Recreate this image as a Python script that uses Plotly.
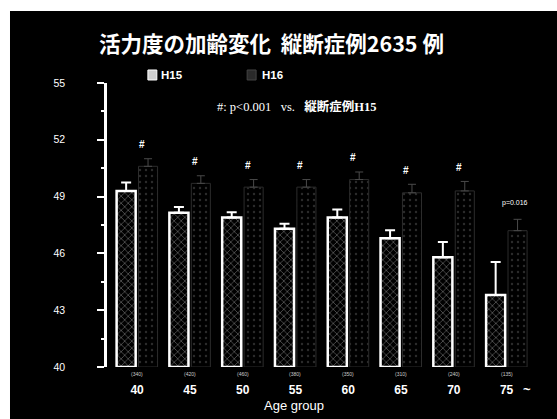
import plotly.graph_objects as go

categories = ["40", "45", "50", "55", "60", "65", "70", "75"]
h15_values = [49.3, 48.15, 47.9, 47.3, 47.9, 46.8, 45.8, 43.8]
h15_err = [0.45, 0.3, 0.28, 0.27, 0.42, 0.42, 0.8, 1.75]
h16_values = [50.6, 49.7, 49.5, 49.5, 49.9, 49.2, 49.3, 47.2]
h16_err = [0.4, 0.4, 0.4, 0.4, 0.4, 0.45, 0.5, 0.6]
sig_marks = ["#", "#", "#", "#", "#", "#", "#", "p=0.016"]
sample_n = ["(340)", "(420)", "(460)", "(380)", "(350)", "(310)", "(240)", "(135)"]

title_text = "<b>活力度の加齢変化  縦断症例2635 例</b>"
note_text = "#: p<0.001&nbsp;&nbsp;&nbsp;vs.&nbsp;&nbsp;&nbsp;<b>縦断症例H15</b>"

fig = go.Figure()

fig.add_trace(go.Bar(
    x=categories, y=[v - 40 for v in h15_values], base=40, name="H15",
    marker=dict(color="black",
                line=dict(color="white", width=2.5),
                pattern=dict(shape="x", fgcolor="#a8a8a8", bgcolor="black", size=5, solidity=0.3)),
    error_y=dict(type="data", array=h15_err, arrayminus=[0]*8, color="white", thickness=2, width=5),
))
fig.add_trace(go.Bar(
    x=categories, y=[v - 40 for v in h16_values], base=40, name="H16",
    marker=dict(color="black",
                line=dict(color="#2c2c2c", width=1),
                pattern=dict(shape=".", fgcolor="#555555", bgcolor="black", size=6, solidity=0.12)),
    error_y=dict(type="data", array=h16_err, arrayminus=[0]*8, color="#4a4a4a", thickness=1, width=4),
))

annotations = []
for i, c in enumerate(categories):
    top = h16_values[i] + h16_err[i]
    if sig_marks[i] == "#":
        annotations.append(dict(x=i, y=top + 0.75, text="<b>#</b>", showarrow=False,
                                xanchor="center", yanchor="middle",
                                xshift=5, font=dict(size=10, color="white", family="Liberation Sans")))
    else:
        annotations.append(dict(x=i, y=top + 0.85, text=sig_marks[i], showarrow=False,
                                xanchor="center", yanchor="middle",
                                xshift=8, font=dict(size=7, color="white", family="Liberation Sans")))
    annotations.append(dict(x=i, y=40, yanchor="top", xanchor="center", yshift=-2, text=sample_n[i],
                            showarrow=False, font=dict(size=5, color="#cccccc", family="Liberation Sans")))

annotations += [
    dict(xref="paper", yref="paper", x=0.387, y=1.141, xanchor="center", yanchor="middle",
         text=title_text, showarrow=False,
         font=dict(size=21.5, color="white", family="Noto Sans CJK JP")),
    dict(xref="paper", yref="paper", x=0.122, y=1.028, xanchor="left", yanchor="middle",
         text="<b>H15</b>", showarrow=False,
         font=dict(size=11.5, color="white", family="Liberation Sans")),
    dict(xref="paper", yref="paper", x=0.359, y=1.028, xanchor="left", yanchor="middle",
         text="<b>H16</b>", showarrow=False,
         font=dict(size=11.5, color="white", family="Liberation Sans")),
    dict(xref="paper", yref="paper", x=0.2535, y=0.9155, xanchor="left", yanchor="middle",
         text=note_text, showarrow=False,
         font=dict(size=12.5, color="white", family="Liberation Serif, Noto Sans CJK JP")),
    dict(xref="paper", yref="paper", x=0.439, y=-0.134, xanchor="center", yanchor="middle",
         text="Age group", showarrow=False,
         font=dict(size=13, color="white", family="Liberation Sans")),
    dict(xref="paper", yref="paper", x=0.986, y=-0.0775, xanchor="center", yanchor="middle",
         text="<b>~</b>", showarrow=False,
         font=dict(size=13, color="white", family="Liberation Sans")),
]

shapes = [
    dict(type="rect", xref="paper", yref="paper", x0=-0.2277, x1=1.1, y0=-0.3, y1=1.2535,
         fillcolor="black", line=dict(width=0), layer="below"),
    dict(type="rect", xref="paper", yref="paper", x0=0.096, x1=0.117, y0=1.0106, y1=1.0458,
         fillcolor="#cfcfcf", line=dict(color="white", width=1), layer="above"),
    dict(type="rect", xref="paper", yref="paper", x0=0.329, x1=0.350, y0=1.0106, y1=1.0458,
         fillcolor="#2a2a2a", line=dict(color="#444444", width=1), layer="above"),
]

fig.update_layout(
    width=557, height=419,
    margin=dict(l=107, r=24, t=83, b=52),
    paper_bgcolor="white", plot_bgcolor="rgba(0,0,0,0)",
    showlegend=False,
    barmode="group", bargap=0.17, bargroupgap=0.13,
    annotations=annotations, shapes=shapes,
    font=dict(family="Liberation Sans", color="white"),
)
fig.update_xaxes(type="category", categoryorder="array", categoryarray=categories,
                 range=[-0.57, 7.5], showline=False, showgrid=False, zeroline=False, ticks="",
                 tickfont=dict(size=12, color="white", family="Liberation Sans"),
                 ticklabelstandoff=14, tickprefix="<b>", ticksuffix="</b>")
fig.update_yaxes(range=[40, 55], tickvals=[40, 43, 46, 49, 52, 55], showgrid=False, zeroline=False,
                 showline=True, linecolor="white", linewidth=2.5,
                 ticks="outside", ticklen=7, tickwidth=2, tickcolor="white",
                 minor=dict(dtick=1.5, tick0=40, ticks="outside", ticklen=3, tickcolor="white", tickwidth=1.5),
                 tickfont=dict(size=10.5, color="white", family="Liberation Sans"),
                 tickprefix="<b>", ticksuffix="</b>", ticklabelstandoff=30)

fig.write_html("out.html")
